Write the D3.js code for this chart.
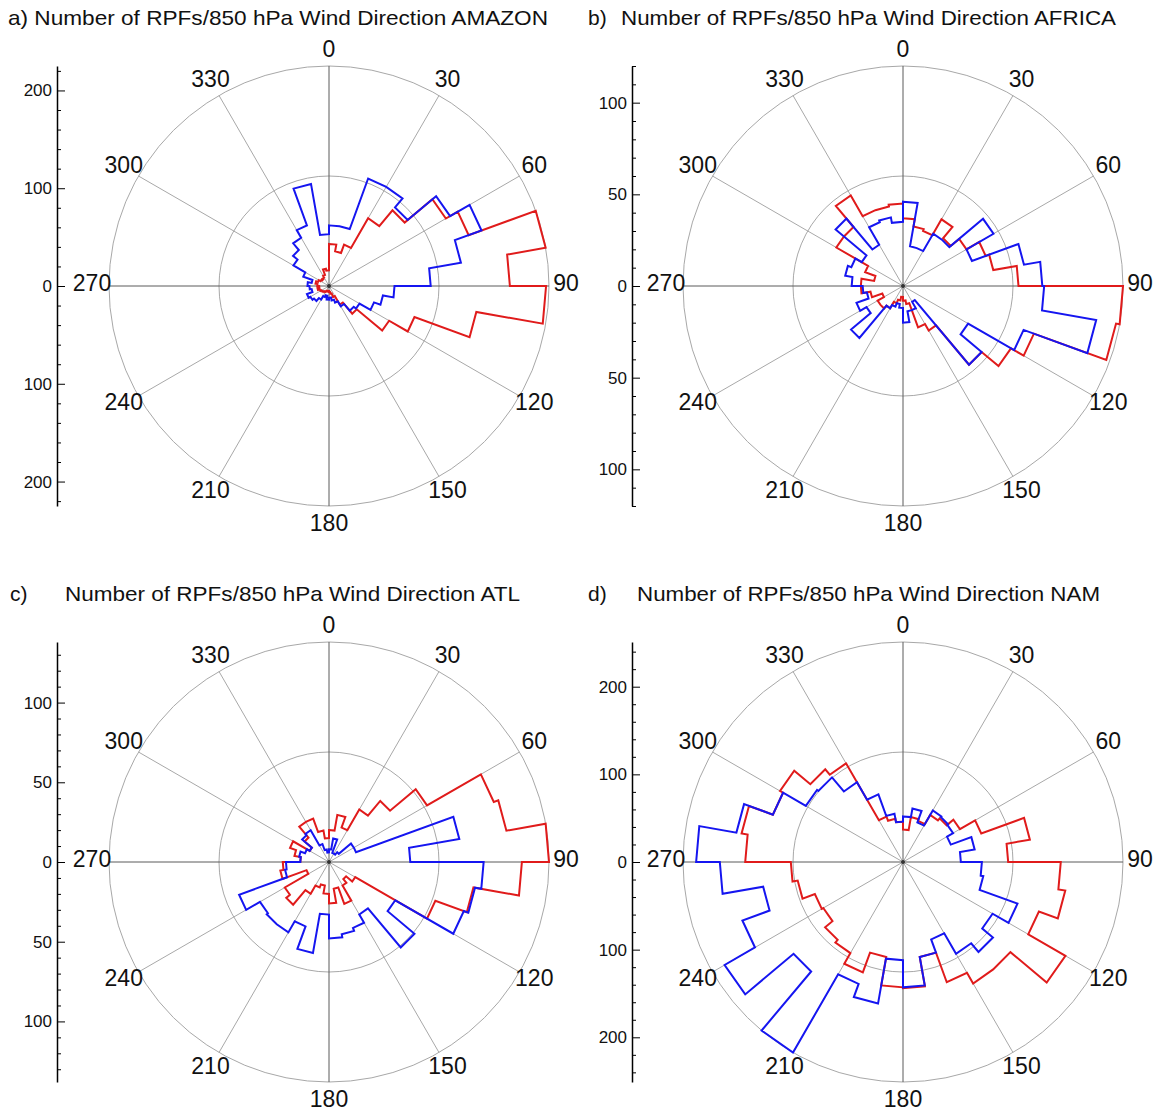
<!DOCTYPE html>
<html>
<head>
<meta charset="utf-8">
<title>Number of RPFs / 850 hPa wind direction</title>
<script src="https://d3js.org/d3.v7.min.js"></script>
<style>
body { margin: 0; background: #fff; }
svg { display: block; font-family: "Liberation Sans", Arial, Helvetica, sans-serif; }
.ring, .spoke { fill: none; stroke: #a8a8a8; stroke-width: 1; }
.cross { stroke: #5a5a5a; stroke-width: 1; }
.rose { fill: none; stroke-width: 2; stroke-linejoin: miter; }
.axis path, .axis line { stroke: #000; }
.axis text { font-size: 17px; fill: #111; }
</style>
</head>
<body>
<svg id="chart" width="1161" height="1112"></svg>
<script>
// wind direction bins (start angle, 10 deg wide)
const dirBins = [0, 10, 20, 30, 40, 50, 60, 70, 80, 90, 100, 110, 120, 130, 140, 150, 160, 170,
                 180, 190, 200, 210, 220, 230, 240, 250, 260, 270, 280, 290, 300, 310, 320, 330, 340, 350];
const compassLabels = [0, 30, 60, 90, 120, 150, 180, 210, 240, 270, 300, 330];

// counts per bin, red and blue
const amazonRed  = [43, 36, 45, 80, 101, 138, 152, 225, 185, 222, 153, 93, 71, 37, 22, 12, 8, 6,
                    5, 5, 6, 7, 8, 9, 10, 12, 10, 12, 14, 12, 10, 9, 10, 12, 18, 16];
const amazonBlue = [62, 62, 117, 117, 105, 143, 166, 137, 104, 67, 56, 49, 36, 33, 24, 18, 15, 12,
                    14, 10, 12, 16, 20, 22, 24, 18, 20, 22, 18, 28, 42, 48, 57, 66, 106, 53];
const africaRed  = [37, 33, 32, 42, 34, 40, 48, 50, 63, 120, 118, 76, 68, 56, 28, 24, 10, 8,
                    6, 8, 10, 14, 16, 16, 12, 18, 23, 23, 16, 22, 42, 42, 57, 44, 44, 45];
const africaBlue = [46, 22, 22, 33, 33, 57, 40, 67, 76, 77, 107, 70, 41, 56, 10, 14, 14, 20,
                    12, 10, 12, 14, 37, 23, 27, 20, 22, 28, 32, 30, 26, 48, 26, 37, 38, 35];
const atlRed     = [20, 30, 23, 38, 50, 71, 110, 113, 138, 121, 92, 71, 19, 14, 17, 28, 17, 26,
                    20, 15, 17, 23, 35, 32, 15, 31, 29, 18, 22, 26, 14, 20, 29, 29, 20, 15];
const atlBlue    = [8, 15, 6, 6, 8, 18, 18, 83, 51, 97, 93, 90, 48, 70, 38, 44, 46, 48,
                    33, 58, 43, 51, 51, 50, 60, 28, 27, 18, 19, 16, 14, 22, 23, 12, 8, 6];
const namRed     = [37, 52, 50, 62, 65, 75, 95, 147, 120, 180, 188, 165, 214, 160, 160, 146, 110, 144,
                    143, 110, 134, 120, 116, 105, 107, 122, 128, 180, 187, 158, 162, 138, 130, 55, 50, 46];
const namBlue    = [52, 62, 48, 68, 67, 66, 58, 83, 66, 90, 93, 139, 118, 134, 121, 94, 110, 143,
                    112, 164, 148, 251, 163, 235, 195, 162, 209, 236, 193, 158, 128, 126, 105, 82, 56, 46];

// radial axis tick labels
const ticksAmazon = [-200, -100, 0, 100, 200];
const ticksAfrica = [-100, -50, 0, 50, 100];
const ticksAtl    = [-100, -50, 0, 50, 100];
const ticksNam    = [-200, -100, 0, 100, 200];

const titleText = "Number of RPFs/850 hPa Wind Direction ";

// tagX/textX: where the panel letter and the title start; textW: title width
const panels = [
  {tag: "a) ", region: "AMAZON", red: amazonRed, blue: amazonBlue, ticks: ticksAmazon, minor: 20,
   cx: 329, cy: 286, axisX: 57, tagX: null, textX: 8, textW: 540, titleY: 25},
  {tag: "b)", region: "AFRICA", red: africaRed, blue: africaBlue, ticks: ticksAfrica, minor: 10,
   cx: 903, cy: 286, axisX: 632, tagX: 588, textX: 621, textW: 495, titleY: 25},
  {tag: "c)", region: "ATL", red: atlRed, blue: atlBlue, ticks: ticksAtl, minor: 10,
   cx: 329, cy: 862, axisX: 57, tagX: 10, textX: 65, textW: 455, titleY: 601},
  {tag: "d)", region: "NAM", red: namRed, blue: namBlue, ticks: ticksNam, minor: 20,
   cx: 903, cy: 862, axisX: 632, tagX: 588, textX: 637, textW: 463, titleY: 601}
];

const R = 220;
const svg = d3.select("#chart");
const rad = d => d * Math.PI / 180;

panels.forEach(p => {
  const vmax = d3.max(p.red.concat(p.blue));
  const r = d3.scaleLinear().domain([0, vmax]).range([0, R]);

  // title (panel a has its letter inside the same string)
  const t = svg.append("g").attr("class", "title").style("font-size", "21px").attr("fill", "#111");
  if (p.tagX !== null) t.append("text").attr("x", p.tagX).attr("y", p.titleY).text(p.tag);
  t.append("text").attr("x", p.textX).attr("y", p.titleY)
    .attr("textLength", p.textW).attr("lengthAdjust", "spacingAndGlyphs")
    .text((p.tagX === null ? p.tag : "") + titleText + p.region);

  const g = svg.append("g").attr("transform", `translate(${p.cx},${p.cy})`);

  // rings at half and full range
  g.selectAll("circle.ring").data([vmax / 2, vmax]).join("circle")
    .attr("class", "ring").attr("r", d => r(d));

  // spokes every 30 deg
  g.selectAll("line.spoke").data(compassLabels.filter(a => a % 90 !== 0)).join("line")
    .attr("class", "spoke")
    .attr("x2", a => R * Math.sin(rad(a)))
    .attr("y2", a => -R * Math.cos(rad(a)));
  g.append("line").attr("class", "cross").attr("x1", -R).attr("x2", R);
  g.append("line").attr("class", "cross").attr("y1", -R).attr("y2", R);

  // compass labels
  g.selectAll("text.dir").data(compassLabels).join("text")
    .attr("class", "dir")
    .attr("x", a => (R + 17) * Math.sin(rad(a)))
    .attr("y", a => -(R + 17) * Math.cos(rad(a)) - 3 * Math.abs(Math.sin(rad(a))))
    .attr("text-anchor", "middle").attr("dominant-baseline", "central")
    .style("font-size", "23px").attr("fill", "#111")
    .text(a => a);

  // step rose outlines
  const rose = d3.lineRadial()
    .angle(d => rad(d.a))
    .radius(d => r(d.v))
    .curve(d3.curveLinearClosed);
  const steps = vals => dirBins.flatMap((a, i) => [{a: a, v: vals[i]}, {a: a + 10, v: vals[i]}]);

  g.append("path").attr("class", "rose").attr("stroke", "#e01b1b").attr("d", rose(steps(p.red)));
  g.append("path").attr("class", "rose").attr("stroke", "#1515f0").attr("d", rose(steps(p.blue)));
  g.append("circle").attr("r", 2).attr("fill", "#333");

  // vertical radial axis on the left
  const y = d3.scaleLinear().domain([-vmax, vmax]).range([p.cy + R, p.cy - R]);
  const minorTicks = d3.range(-Math.floor(vmax / p.minor) * p.minor, vmax + 0.01, p.minor)
    .filter(v => !p.ticks.includes(v));
  svg.append("g").attr("class", "axis")
    .attr("transform", `translate(${p.axisX},0)`)
    .call(d3.axisLeft(y).tickValues(minorTicks).tickSizeInner(-4).tickSizeOuter(0).tickFormat(""))
    .call(a => a.select(".domain").attr("stroke-width", 1.5));
  svg.append("g").attr("class", "axis")
    .attr("transform", `translate(${p.axisX},0)`)
    .call(d3.axisLeft(y).tickValues(p.ticks).tickSizeInner(-8).tickSizeOuter(0).tickPadding(5)
      .tickFormat(d => Math.abs(d)))
    .call(a => a.select(".domain").remove());
});
</script>
</body>
</html>
